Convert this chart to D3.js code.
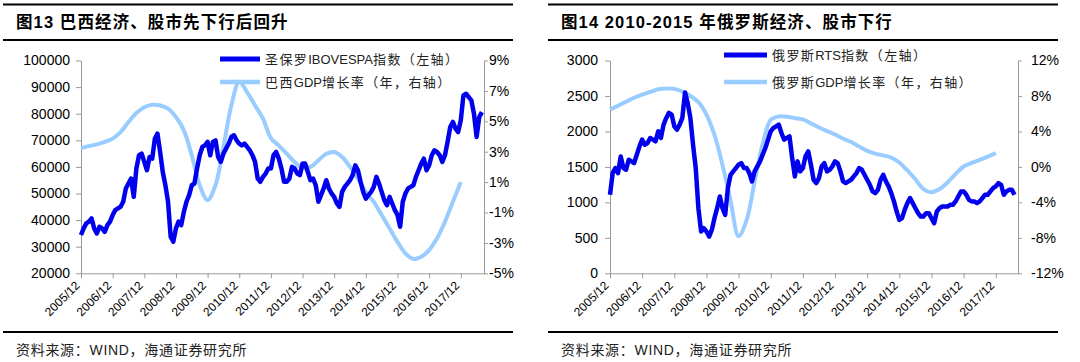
<!DOCTYPE html>
<html>
<head>
<meta charset="utf-8">
<script src="https://cdn.jsdelivr.net/npm/d3@7"></script>
<style>
  body { margin: 0; background: #fff; }
</style>
</head>
<body>
<svg class="graph"></svg>
<script>
// x axis labels, one every 12 months starting 2005/12
const xTickLabels = ["2005/12", "2006/12", "2007/12", "2008/12", "2009/12", "2010/12", "2011/12",
  "2012/12", "2013/12", "2014/12", "2015/12", "2016/12", "2017/12"];

// monthly IBOVESPA, 2005/12 .. 2018/08
const brazilStock = [
  34400, 36900, 38750, 39400, 40600, 36900, 35000, 37500, 36900, 35600, 38100, 39400,
  41900, 43750, 44400, 45000, 46900, 51900, 53750, 55600, 48750, 59400, 64400, 65000,
  61900, 58750, 63750, 63100, 70600, 72500, 65600, 58100, 53100, 46900, 33750, 31900,
  36900, 39400, 38100, 43100, 46900, 49400, 53100, 53750, 59400, 64400, 67500, 68100,
  69400, 64400, 69400, 70000, 63750, 61900, 65000, 66900, 68750, 71250, 71900, 70000,
  68750, 68100, 68750, 67500, 66250, 64400, 61900, 55600, 54400, 56250, 57500, 59400,
  59400, 64400, 65600, 63100, 59400, 54400, 54400, 55600, 60000, 59400, 57500, 56900,
  61250, 61250, 58100, 55000, 55600, 53100, 46900, 49400, 51900, 55000, 51900, 50000,
  48750, 46250, 45000, 50600, 52500, 53750, 55000, 56900, 60600, 58750, 54400, 50600,
  48100, 49400, 50600, 52500, 56250, 53750, 50600, 47500, 45600, 48750, 46250, 43750,
  41900, 37500, 46900, 50000, 51900, 52500, 53100, 56250, 58750, 61250, 63100, 58750,
  60600, 64400, 66250, 65600, 64400, 61900, 64400, 69400, 75000, 76900, 74400, 73100,
  77500, 86900, 87500, 86250, 85000, 80000, 71250, 78750, 80600
];

// quarterly Brazil GDP growth (%), 2005/12 .. 2017/12
const brazilGdp = [
  3.24, 3.37, 3.48, 3.64, 3.86, 4.29, 4.95, 5.54, 5.93, 6.09, 6.04, 5.83,
  5.28, 4.4, 2.76, 0.79, -0.19, 0.8, 3.3, 6.04, 7.6, 6.9, 6.04, 5.17,
  3.9, 3.4, 2.87, 2.32, 1.93, 2.0, 2.43, 2.87, 2.98, 2.65, 2.0, 1.23,
  0.35, -0.3, -1.17, -2.05, -2.93, -3.69, -4.06, -3.91, -3.47, -2.7, -1.61, -0.3,
  1.0
];

// monthly RTS, 2005/12 .. 2018/07
const russiaStock = [
  1107, 1413, 1484, 1413, 1648, 1484, 1460, 1601, 1578, 1554, 1672, 1790,
  1884, 1813, 1837, 1907, 1884, 1860, 2002, 1908, 2096, 2190, 2261, 2237,
  2072, 2025, 2096, 2190, 2550, 2400, 2190, 1813, 1484, 918, 589, 636,
  589, 518, 612, 777, 918, 1083, 918, 824, 1201, 1389, 1437, 1484,
  1531, 1554, 1484, 1484, 1413, 1295, 1437, 1507, 1578, 1672, 1766, 1884,
  2002, 2049, 2072, 2096, 1978, 1884, 1908, 1931, 1625, 1366, 1578, 1437,
  1484, 1650, 1719, 1531, 1319, 1272, 1342, 1507, 1554, 1437, 1460, 1507,
  1578, 1554, 1437, 1295, 1272, 1295, 1319, 1366, 1413, 1484, 1460, 1389,
  1319, 1248, 1154, 1130, 1177, 1319, 1389, 1295, 1225, 1130, 1013, 871,
  753, 777, 895, 989, 1060, 989, 918, 848, 801, 801, 848, 848,
  777, 706, 871, 918, 942, 942, 942, 966, 966, 1013, 1083, 1154,
  1154, 1107, 1036, 1013, 1013, 989, 1013, 1060, 1107, 1107, 1154, 1201,
  1225, 1272, 1248, 1107, 1154, 1177, 1177, 1107
];

// quarterly Russia GDP growth (%), 2005/12 .. 2017/12
const russiaGdp = [
  6.46, 6.9, 7.35, 7.8, 8.15, 8.45, 8.75, 8.85, 8.8, 8.5, 8.0, 7.3,
  5.9, 3.6, 0.2, -3.8, -7.8, -6.0, -1.6, 2.6, 5.3, 5.7, 5.65, 5.5,
  5.35, 4.9, 4.45, 4.05, 3.65, 3.2, 2.8, 2.3, 1.8, 1.5, 1.3, 1.05,
  0.5, -0.4, -1.4, -2.5, -2.85, -2.5, -1.75, -0.8, 0.05, 0.45, 0.8, 1.15,
  1.55
];

const font = '"Liberation Sans", Arial, "Noto Sans CJK SC", sans-serif';
const darkBlue = "#0000ee";
const lightBlue = "#99ccff";
const axisGrey = "#999";

const svg = d3.select(".graph")
    .attr("width", 1080)
    .attr("height", 362)
    .style("font-family", font);

function drawPanel(p) {
  const g = svg.append("g");

  // rules + title + source
  [4.5, 40, 332].forEach(y => {
    g.append("line")
        .attr("x1", p.ruleX0).attr("x2", p.ruleX1)
        .attr("y1", y).attr("y2", y)
        .attr("stroke", "#000").attr("stroke-width", 2);
  });
  g.append("text")
      .attr("x", p.textX).attr("y", 28)
      .attr("font-size", "16.5px").attr("font-weight", "bold")
      .attr("letter-spacing", "1.1px")
      .text(p.title);
  g.append("text")
      .attr("x", p.textX).attr("y", 355)
      .attr("font-size", "14px").attr("letter-spacing", "0.7px")
      .attr("fill", "#222")
      .text("资料来源：WIND，海通证券研究所");

  const top = 60.5, bottom = 273.3;
  const x = d3.scaleLinear().domain([0, p.xEnd]).range([p.left, p.right]);
  const yL = d3.scaleLinear().domain(p.leftDomain).range([bottom, top]);
  const yR = d3.scaleLinear().domain(p.rightDomain).range([bottom, top]);

  // axes
  const gx = g.append("g")
      .attr("transform", `translate(0, ${bottom})`)
      .call(d3.axisBottom(x)
        .tickValues(d3.range(0, 145, 12))
        .tickSize(5).tickSizeOuter(0)
        .tickFormat((d, i) => xTickLabels[i]));
  gx.selectAll("text")
      .attr("x", 0).attr("y", 0).attr("dy", 0)
      .attr("text-anchor", "end")
      .attr("transform", "translate(-1, 13) rotate(-45)")
      .attr("font-size", "12px");

  const gl = g.append("g")
      .attr("transform", `translate(${p.left}, 0)`)
      .call(d3.axisLeft(yL)
        .tickValues(p.leftTicks)
        .tickSize(5).tickSizeOuter(0).tickPadding(p.leftPad)
        .tickFormat(d => d));
  gl.selectAll("text").attr("font-size", "14px");

  const gr = g.append("g")
      .attr("transform", `translate(${p.right}, 0)`)
      .call(d3.axisRight(yR)
        .tickValues(p.rightTicks)
        .tickSize(4).tickSizeOuter(0).tickPadding(p.rightPad)
        .tickFormat(d => d + "%"));
  gr.selectAll("text").attr("font-size", "14px");

  [gx, gl, gr].forEach(a => {
    a.attr("font-family", font);
    a.selectAll("line, path").attr("stroke", axisGrey);
    a.selectAll("text").attr("fill", "#000");
  });

  // series
  const gdpLine = d3.line()
      .x((d, i) => x(i * 3))
      .y(d => yR(d))
      .curve(d3.curveCatmullRom);
  g.append("path")
      .datum(p.gdp)
      .attr("d", gdpLine)
      .attr("fill", "none")
      .attr("stroke", lightBlue)
      .attr("stroke-width", 4);

  const stockLine = d3.line()
      .x((d, i) => x(i))
      .y(d => yL(d));
  g.append("path")
      .datum(p.stock)
      .attr("d", stockLine)
      .attr("fill", "none")
      .attr("stroke", darkBlue)
      .attr("stroke-width", 4.5)
      .attr("stroke-linejoin", "round");

  // legend (latin runs tight, CJK runs spaced out)
  const legend = [
    { name: p.names[0], color: darkBlue, width: 5, y: p.legY[0] },
    { name: p.names[1], color: lightBlue, width: 4.5, y: p.legY[1] }
  ];
  legend.forEach(l => {
    g.append("line")
        .attr("x1", p.legX).attr("x2", p.legX + p.legW)
        .attr("y1", l.y).attr("y2", l.y)
        .attr("stroke", l.color).attr("stroke-width", l.width);
    const t = g.append("text")
        .attr("x", p.legX + p.legW + 5).attr("y", l.y)
        .attr("dy", "0.35em")
        .attr("font-size", "13px")
        .attr("fill", "#222");
    l.name.split(/([A-Za-z]+)/).filter(s => s).forEach(s => {
      t.append("tspan")
          .attr("letter-spacing", /[A-Za-z]/.test(s) ? "0px" : "1.4px")
          .text(s);
    });
  });
}

drawPanel({
  title: "图13 巴西经济、股市先下行后回升",
  ruleX0: 3, ruleX1: 513, textX: 16,
  left: 81, right: 484, xEnd: 152.8,
  leftDomain: [20000, 100000], leftTicks: d3.range(20000, 100001, 10000), leftPad: 6,
  rightDomain: [-5, 9], rightTicks: d3.range(-5, 10, 2), rightPad: 1,
  stock: brazilStock, gdp: brazilGdp,
  names: ["圣保罗IBOVESPA指数（左轴）", "巴西GDP增长率（年，右轴）"],
  legX: 220, legW: 40, legY: [59, 82]
});

drawPanel({
  title: "图14 2010-2015 年俄罗斯经济、股市下行",
  ruleX0: 548, ruleX1: 1058, textX: 561,
  left: 610, right: 1018, xEnd: 152.3,
  leftDomain: [0, 3000], leftTicks: d3.range(0, 3001, 500), leftPad: 7,
  rightDomain: [-12, 12], rightTicks: d3.range(-12, 13, 4), rightPad: 9,
  stock: russiaStock, gdp: russiaGdp,
  names: ["俄罗斯RTS指数（左轴）", "俄罗斯GDP增长率（年，右轴）"],
  legX: 724, legW: 43, legY: [55, 82]
});
</script>
</body>
</html>
